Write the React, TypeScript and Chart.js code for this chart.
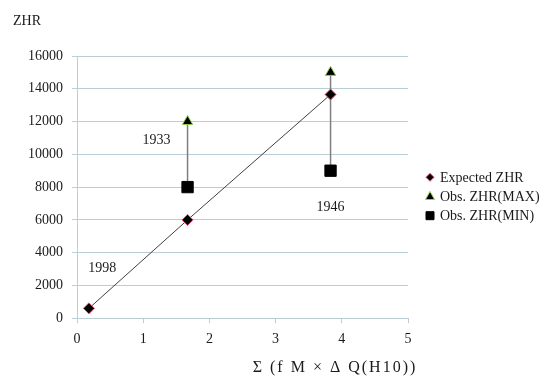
import React, { useEffect, useRef } from 'react';
import { Chart, registerables } from 'chart.js';

Chart.register(...registerables);

const FONT = "'Liberation Serif', 'Times New Roman', serif";

// Data
const expectedX = [0.18, 1.67, 3.83];
const expectedZHR = [600, 6000, 13650];
const obsX = [1.67, 3.83];
const obsMaxZHR = [12000, 15000];
const obsMinZHR = [8000, 9000];

const yearText = ['1998', '1933', '1946'];
const yearX = [0.38, 1.2, 3.83];
const yearY = [3070, 10830, 6790];

const xTicks = [0, 1, 2, 3, 4, 5];
const yTicks = [0, 2000, 4000, 6000, 8000, 10000, 12000, 14000, 16000];

const seriesNames = ['Expected ZHR', 'Obs. ZHR(MAX)', 'Obs. ZHR(MIN)'];
const yTitle = 'ZHR';
const xTitle = 'Σ (f M × Δ Q(H10))';

const GRID = '#bccdd6';
const TEXT = '#1a1a1a';

function drawMarker(ctx: CanvasRenderingContext2D, kind: string, x: number, y: number, r: number, fill: string, stroke: string) {
  ctx.save();
  ctx.beginPath();
  if (kind === 'diamond') {
    ctx.moveTo(x, y - r);
    ctx.lineTo(x + r, y);
    ctx.lineTo(x, y + r);
    ctx.lineTo(x - r, y);
    ctx.closePath();
  } else if (kind === 'triangle') {
    ctx.moveTo(x, y - r);
    ctx.lineTo(x + r * 0.9, y + r * 0.6);
    ctx.lineTo(x - r * 0.9, y + r * 0.6);
    ctx.closePath();
  } else {
    ctx.rect(x - r, y - r, 2 * r, 2 * r);
  }
  ctx.fillStyle = fill;
  ctx.fill();
  ctx.strokeStyle = stroke;
  ctx.lineWidth = 1;
  ctx.stroke();
  ctx.restore();
}

const annotationPlugin = {
  id: 'annotations',
  afterDraw(chart: any) {
    const ctx: CanvasRenderingContext2D = chart.ctx;
    const xs = chart.scales.x;
    const ys = chart.scales.y;
    const area = chart.chartArea;
    ctx.save();
    ctx.fillStyle = TEXT;
    ctx.font = `14px ${FONT}`;
    // year labels
    ctx.textAlign = 'center';
    ctx.textBaseline = 'middle';
    yearText.forEach((t, i) => {
      ctx.fillText(t, xs.getPixelForValue(yearX[i]), ys.getPixelForValue(yearY[i]));
    });
    // y title
    ctx.textAlign = 'left';
    ctx.textBaseline = 'alphabetic';
    ctx.fillText(yTitle, 13, 25);
    // x title
    ctx.save();
    ctx.font = `16px ${FONT}`;
    (ctx as any).letterSpacing = '2px';
    ctx.textAlign = 'center';
    ctx.textBaseline = 'middle';
    ctx.fillText(xTitle, area.left + 258, area.bottom + 50);
    ctx.restore();
    // legend
    const mid = (area.top + area.bottom) / 2;
    const kinds = ['diamond', 'triangle', 'square'];
    const fills = ['#000', '#000', '#000'];
    const strokes = ['#e0506a', '#8fd14f', '#000'];
    const sizes = [4, 5, 4];
    ctx.font = `14px ${FONT}`;
    seriesNames.forEach((name, i) => {
      const y = mid - 9.8 + 19.2 * i;
      const mx = area.right + 22;
      drawMarker(ctx, kinds[i], mx, y, sizes[i], fills[i], strokes[i]);
      ctx.fillStyle = TEXT;
      ctx.textAlign = 'left';
      ctx.textBaseline = 'middle';
      ctx.fillText(name, mx + 10, y + 1);
    });
    ctx.restore();
  },
};

export default function App() {
  const ref = useRef<HTMLCanvasElement | null>(null);

  useEffect(() => {
    if (!ref.current) return;
    const rangeSets = obsX.map((x, i) => ({
      label: 'range' + i,
      data: [
        { x, y: obsMaxZHR[i] },
        { x, y: obsMinZHR[i] },
      ],
      showLine: true,
      borderColor: '#7f7f7f',
      borderWidth: 1.5,
      pointRadius: 0,
      order: 3,
    }));
    const chart = new Chart(ref.current, {
      type: 'scatter',
      data: {
        datasets: [
          ...rangeSets,
          {
            label: seriesNames[0],
            data: expectedX.map((x, i) => ({ x, y: expectedZHR[i] })),
            showLine: true,
            borderColor: '#404040',
            borderWidth: 1,
            pointStyle: 'rectRot',
            pointRadius: 5.5,
            pointBackgroundColor: '#000',
            pointBorderColor: '#e0506a',
            pointBorderWidth: 1,
            order: 2,
          },
          {
            label: seriesNames[1],
            data: obsX.map((x, i) => ({ x, y: obsMaxZHR[i] })),
            pointStyle: 'triangle',
            pointRadius: 6,
            pointBackgroundColor: '#000',
            pointBorderColor: '#8fd14f',
            pointBorderWidth: 1,
            order: 1,
          },
          {
            label: seriesNames[2],
            data: obsX.map((x, i) => ({ x, y: obsMinZHR[i] })),
            pointStyle: 'rect',
            pointRadius: 8,
            pointBackgroundColor: '#000',
            pointBorderColor: '#000',
            pointBorderWidth: 1,
            order: 1,
          },
        ],
      },
      options: {
        responsive: false,
        animation: false,
        devicePixelRatio: 1,
        layout: { padding: { top: 56, left: 19, right: 143, bottom: 20 } },
        plugins: {
          legend: { display: false },
          tooltip: { enabled: false },
        },
        scales: {
          x: {
            type: 'linear',
            min: 0,
            max: 5,
            afterBuildTicks: (s: any) => {
              s.ticks = xTicks.map((v) => ({ value: v }));
            },
            ticks: {
              color: TEXT,
              font: { family: FONT, size: 14 },
              padding: 8,
              callback: (v: any) => String(v),
            },
            grid: { drawOnChartArea: false, drawTicks: true, tickLength: 5, color: GRID },
            border: { display: true, color: GRID },
          },
          y: {
            type: 'linear',
            min: 0,
            max: 16000,
            afterBuildTicks: (s: any) => {
              s.ticks = yTicks.map((v) => ({ value: v }));
            },
            ticks: {
              color: TEXT,
              font: { family: FONT, size: 14 },
              padding: 9,
              callback: (v: any) => String(v),
            },
            grid: { drawOnChartArea: true, drawTicks: true, tickLength: 5, color: GRID },
            border: { display: true, color: GRID },
          },
        },
      },
      plugins: [annotationPlugin],
    } as any);
    return () => chart.destroy();
  }, []);

  return (
    <div style={{ position: 'fixed', left: 0, top: 0, width: 551, height: 376, background: '#fff' }}>
      <canvas ref={ref} width={551} height={376} style={{ display: 'block', width: 551, height: 376 }} />
    </div>
  );
}
